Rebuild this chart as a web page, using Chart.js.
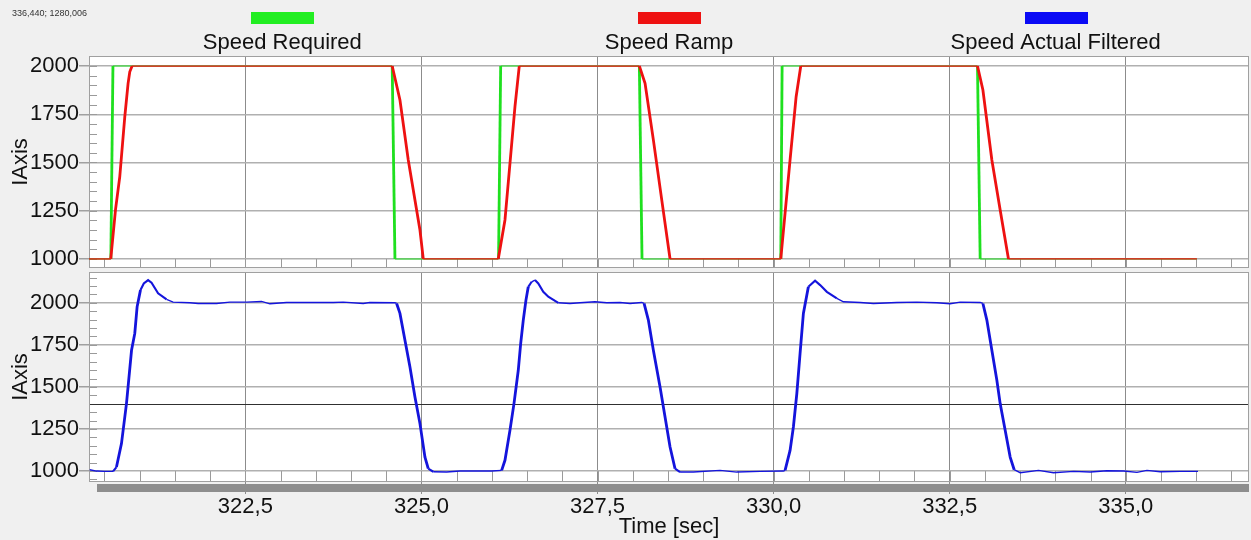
<!DOCTYPE html>
<html>
<head>
<meta charset="utf-8">
<script src="https://cdn.jsdelivr.net/npm/chart.js@4/dist/chart.umd.min.js"></script>
<style>
  html, body { margin: 0; padding: 0; background: #f0f0f0; }
  #wrap { position: relative; width: 1251px; height: 540px; overflow: hidden; }
  canvas { position: absolute; left: 0; }
  #cTop { top: 0; }
  #cBot { top: 270px; }
</style>
</head>
<body>
<div id="wrap">
  <canvas id="cTop" width="1251" height="270"></canvas>
  <canvas id="cBot" width="1251" height="270"></canvas>
</div>
<script>
// Series labels and colours
const seriesNames = ['Speed Required', 'Speed Ramp', 'Speed Actual Filtered'];
const seriesColors = ['#1fe01f', '#ee1111', '#1414dc'];
const patchColors = ['#22ee22', '#ee1111', '#0a0af5'];

// Speed Required (step setpoint), time in s
const reqTime  = [320.28, 320.59, 320.62, 324.585, 324.624, 326.095, 326.125, 328.094, 328.132, 330.102, 330.121, 332.895, 332.933, 336.01];
const reqSpeed = [1000,   1000,   2000,   2000,    1000,    1000,    2000,    2000,    1000,    1000,    2000,    2000,    1000,    1000];

// Speed Ramp (rate-limited setpoint)
const rampTime  = [320.28, 320.589, 320.656, 320.717, 320.788, 320.835, 320.859, 320.892,
                   324.585, 324.695, 324.813, 324.979, 325.026,
                   326.091, 326.186, 326.257, 326.328, 326.389,
                   328.094, 328.175, 328.293, 328.412, 328.530,
                   330.102, 330.234, 330.320, 330.386,
                   332.895, 332.972, 333.099, 333.217, 333.335, 336.01];
const rampSpeed = [1000, 1000, 1254, 1427, 1737, 1910, 1970, 2000,
                   2000, 1824, 1513, 1150, 1000,
                   1000, 1202, 1496, 1789, 2000,
                   2000, 1910, 1617, 1306, 1000,
                   1000, 1513, 1841, 2000,
                   2000, 1876, 1513, 1254, 1000, 1000];

// Speed Actual Filtered (measured)
const actTime = [320.291, 320.386, 320.50, 320.622,
  320.670, 320.741, 320.812, 320.884, 320.930, 320.963, 321.011, 321.058, 321.119, 321.168, 321.261, 321.381, 321.474,
  321.712, 321.830, 322.091, 322.280, 322.517, 322.730, 322.848, 323.085, 323.463, 323.747, 323.889, 324.173, 324.268, 324.624,
  324.648, 324.695, 324.766, 324.837, 324.908, 324.979, 325.050, 325.097, 325.168,
  325.358, 325.547, 325.831, 325.997,
  326.139, 326.186, 326.257, 326.314, 326.375, 326.409, 326.446, 326.484, 326.517, 326.565, 326.612, 326.659, 326.730, 326.801, 326.943,
  327.109, 327.251, 327.464, 327.631, 327.820, 327.962, 328.128,
  328.161, 328.222, 328.293, 328.388, 328.459, 328.530, 328.601, 328.672,
  328.861, 329.240, 329.477, 329.808, 330.139,
  330.163, 330.234, 330.281, 330.330, 330.376, 330.423, 330.494, 330.589, 330.661, 330.756, 330.898, 330.991, 331.229,
  331.418, 331.750, 332.034, 332.318, 332.507, 332.649, 332.933,
  332.972, 333.028, 333.099, 333.170, 333.217, 333.288, 333.359, 333.416, 333.501,
  333.761, 333.974, 334.259, 334.496, 334.733, 334.969, 335.159, 335.301, 335.490, 335.774, 336.026];
const actSpeed = [1008, 1000, 998, 998,
  1024, 1163, 1401, 1718, 1818, 1976, 2076, 2115, 2135, 2119, 2056, 2020, 2004,
  2000, 1996, 1996, 2004, 2004, 2008, 1994, 2002, 2002, 2002, 2004, 1996, 2002, 2000,
  1996, 1937, 1778, 1619, 1440, 1282, 1083, 1014, 996,
  994, 1000, 1000, 1000,
  1004, 1064, 1242, 1401, 1599, 1758, 1897, 2016, 2095, 2125, 2135, 2115, 2065, 2036, 2000,
  1996, 2000, 2006, 2000, 2002, 1996, 2002,
  1996, 1897, 1718, 1500, 1321, 1143, 1014, 994,
  994, 1004, 994, 998, 1000,
  1004, 1123, 1262, 1461, 1699, 1937, 2095, 2131, 2105, 2065, 2026, 2006, 2002,
  1996, 2002, 2004, 2000, 1994, 2004, 2002,
  1996, 1897, 1718, 1540, 1401, 1242, 1083, 1008, 990,
  1004, 990, 998, 994, 1002, 1000, 992, 1004, 996, 998, 998];

// Axis ticks and ranges
const speedTicks = [1000, 1250, 1500, 1750, 2000];
const timeTicks = [322.5, 325, 327.5, 330, 332.5, 335];
const timeRange = [320.28, 336.75];
const topRange = [953, 2052];
const bottomRange = [935, 2183];
const cursorLevel = 1400;
const cursorText = '336,440; 1280,006';
const axisTitle = 'IAxis';
const timeTitle = 'Time [sec]';

Chart.defaults.font.family = "'Liberation Sans', Arial, sans-serif";
Chart.defaults.color = '#111';

const toPoints = (ts, vs) => ts.map((t, i) => ({ x: t, y: vs[i] }));

// Steep parts of a trace are drawn heavier than the flat parts
function strokeWidth(flat) {
  return ctx => {
    const dx = Math.abs(ctx.p1.x - ctx.p0.x);
    const dy = Math.abs(ctx.p1.y - ctx.p0.y);
    const r = dy / (dx + 0.001);
    return r > 2 ? 2.8 : (r > 0.6 ? 2.1 : flat);
  };
}

function lineSet(i, ts, vs, order, flat) {
  return {
    label: seriesNames[i],
    data: toPoints(ts, vs),
    borderColor: seriesColors[i],
    borderWidth: flat,
    pointRadius: 0,
    tension: 0,
    order: order,
    segment: { borderWidth: strokeWidth(flat) }
  };
}

// White plot background, frame, inner minor ticks, optional cursor line
const panelDecor = {
  id: 'panelDecor',
  beforeDraw(chart) {
    const a = chart.chartArea, c = chart.ctx;
    c.save();
    c.fillStyle = '#ffffff';
    c.fillRect(a.left, a.top, a.right - a.left, a.bottom - a.top);
    c.restore();
  },
  beforeDatasetsDraw(chart, args, opts) {
    const a = chart.chartArea, c = chart.ctx;
    const xs = chart.scales.x, ys = chart.scales.y;
    c.save();
    c.strokeStyle = '#9a9a9a';
    c.lineWidth = 1;
    // minor speed ticks every 50, pointing inward from the left edge
    c.beginPath();
    for (let v = Math.ceil(ys.min / 50) * 50; v <= ys.max; v += 50) {
      const y = Math.round(ys.getPixelForValue(v)) + 0.5;
      c.moveTo(a.left, y); c.lineTo(a.left + 8, y);
    }
    // minor time ticks every 0.5 s, in the strip under the 1000 line
    const base = ys.getPixelForValue(1000);
    for (let t = Math.ceil(xs.min / 0.5) * 0.5; t <= xs.max; t += 0.5) {
      const x = Math.round(xs.getPixelForValue(t)) + 0.5;
      c.moveTo(x, base); c.lineTo(x, a.bottom);
    }
    c.stroke();
    if (opts.cursor) {
      const y = Math.round(ys.getPixelForValue(opts.cursor)) + 0.5;
      c.strokeStyle = '#303030';
      c.beginPath(); c.moveTo(a.left, y); c.lineTo(a.right, y); c.stroke();
    }
    c.strokeStyle = '#a0a0a0';
    c.strokeRect(a.left + 0.5, a.top + 0.5, a.right - a.left - 1, a.bottom - a.top - 1);
    c.restore();
  }
};

// Legend: colour patch above each series name, in three columns
const topLegend = {
  id: 'topLegend',
  afterDraw(chart) {
    const a = chart.chartArea, c = chart.ctx;
    const colW = (a.right - a.left) / seriesNames.length;
    c.save();
    seriesNames.forEach((name, i) => {
      const cx = a.left + (i + 0.5) * colW;
      c.fillStyle = patchColors[i];
      c.fillRect(Math.round(cx - 31), 12, 63, 12);
      c.fillStyle = '#111';
      c.font = "22px 'Liberation Sans', Arial, sans-serif";
      c.textAlign = 'center';
      c.textBaseline = 'middle';
      c.fillText(name, cx, 43);
    });
    c.fillStyle = '#333';
    c.font = "9px 'Liberation Sans', Arial, sans-serif";
    c.textAlign = 'left';
    c.fillText(cursorText, 12, 14);
    c.restore();
  }
};

// Scroll bar strip under the lower plot
const scrollStrip = {
  id: 'scrollStrip',
  afterDraw(chart) {
    const a = chart.chartArea, c = chart.ctx;
    c.save();
    c.fillStyle = '#8e8e8e';
    c.fillRect(a.left + 8, a.bottom + 2, a.right - a.left - 8, 8);
    c.restore();
  }
};

function speedAxis(range) {
  return {
    type: 'linear',
    min: range[0], max: range[1],
    afterBuildTicks: s => { s.ticks = speedTicks.map(v => ({ value: v })); },
    ticks: { font: { size: 22 }, color: '#111', padding: 0, callback: v => String(v) },
    grid: { color: '#b0b0b0', lineWidth: 1.5, drawTicks: true, tickLength: 10, tickColor: '#a0a0a0' },
    border: { display: false },
    title: { display: true, text: axisTitle, font: { size: 22 }, color: '#111', padding: { top: 8, bottom: 0 } },
    afterFit: s => { s.width = 89; s.paddingTop = 0; s.paddingBottom = 0; }
  };
}

function timeAxis(showLabels) {
  const ax = {
    type: 'linear',
    min: timeRange[0], max: timeRange[1],
    afterBuildTicks: s => { s.ticks = timeTicks.map(v => ({ value: v })); },
    grid: { color: '#8c8c8c', lineWidth: 1, drawTicks: showLabels, tickLength: 12, tickColor: '#8c8c8c' },
    border: { display: false }
  };
  if (showLabels) {
    ax.ticks = { font: { size: 22 }, color: '#111', padding: 0, maxRotation: 0, autoSkip: false,
                 callback: v => v.toFixed(1).replace('.', ',') };
    ax.title = { display: true, text: timeTitle, font: { size: 22 }, color: '#111', padding: { top: 0, bottom: 0 } };
    ax.afterFit = s => { s.height = 58; s.paddingLeft = 0; s.paddingRight = 0; };
  } else {
    ax.ticks = { display: false };
    ax.afterFit = s => { s.height = 2; s.paddingLeft = 0; s.paddingRight = 0; };
  }
  return ax;
}

const common = {
  responsive: false,
  animation: false,
  events: [],
  plugins: { legend: { display: false }, tooltip: { enabled: false } }
};

new Chart(document.getElementById('cTop'), {
  type: 'line',
  data: { datasets: [
    lineSet(0, reqTime, reqSpeed, 1, 1.1),
    lineSet(1, rampTime, rampSpeed, 0, 1.3)
  ] },
  options: Object.assign({}, common, {
    layout: { padding: { top: 56, right: 2, left: 0, bottom: 0 } },
    scales: { x: timeAxis(false), y: speedAxis(topRange) },
    plugins: Object.assign({}, common.plugins, { panelDecor: {} })
  }),
  plugins: [panelDecor, topLegend]
});

new Chart(document.getElementById('cBot'), {
  type: 'line',
  data: { datasets: [ lineSet(2, actTime, actSpeed, 0, 1.4) ] },
  options: Object.assign({}, common, {
    layout: { padding: { top: 2, right: 2, left: 0, bottom: 0 } },
    scales: { x: timeAxis(true), y: speedAxis(bottomRange) },
    plugins: Object.assign({}, common.plugins, { panelDecor: { cursor: cursorLevel } })
  }),
  plugins: [panelDecor, scrollStrip]
});
</script>
</body>
</html>
